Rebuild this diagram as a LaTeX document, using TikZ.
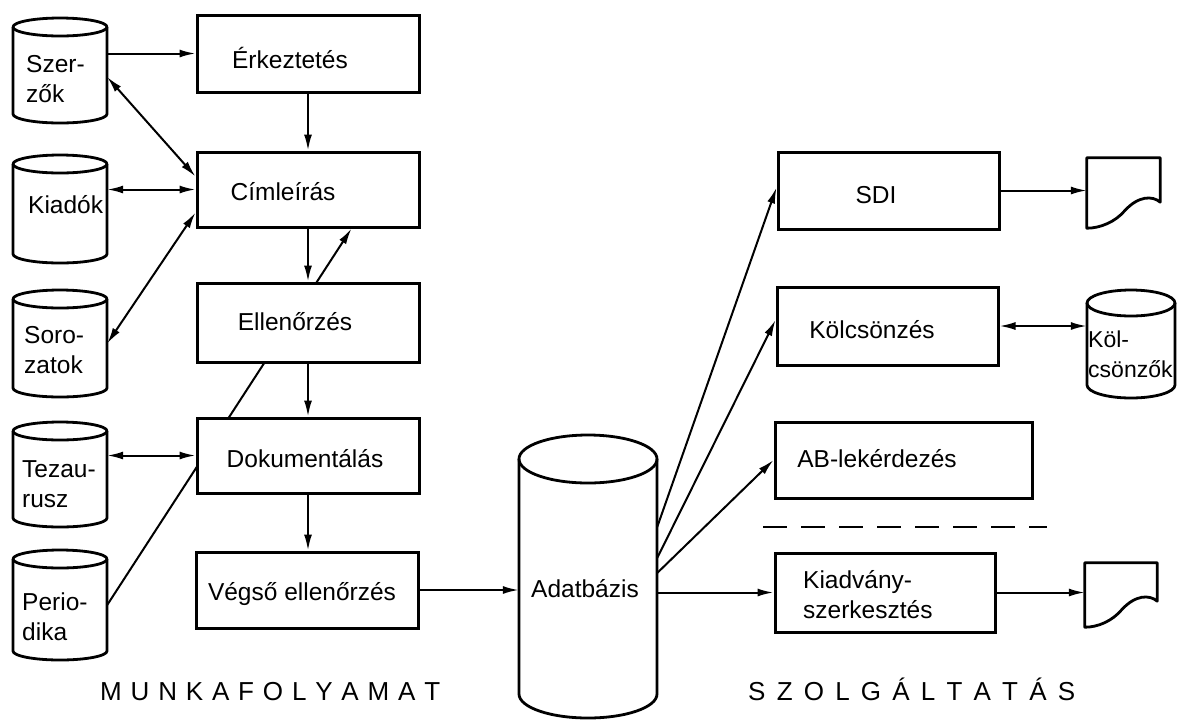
\documentclass[tikz,border=0pt]{standalone}
\usepackage{fontspec}
\setmainfont{Liberation Sans}
\usetikzlibrary{arrows.meta,fit,calc,backgrounds}
\newcommand\mycyl[6]{%
  \node[hold, fit={(#2,-#3)(#4,-#5)}] (#1) {};
  \draw[shapeline] ({(#2+#4)/2},{-#3-#6}) ellipse [x radius={(#4-#2)/2}, y radius=#6];
  \draw[shapeline] (#2,{-#3-#6}) -- (#2,{-#5+#6}) arc[start angle=180,end angle=360,x radius={(#4-#2)/2},y radius=#6] -- (#4,{-#3-#6});}
\newcommand\mydoc[5]{%
  \node[hold, fit={(#2,-#3)(#4,-#5)}] (#1) {};
  \draw[shapeline] (#1.south west) -- (#1.north west) -- (#1.north east) -- ($(#1.south east)+(0,26)$)
    .. controls +(-8,7) and +(13,14) .. ($(#1.south east)+(-35,18)$)
    .. controls +(-10,-12) and +(13,0) .. (#1.south west) -- cycle;}
\begin{document}
\begin{tikzpicture}[x=1pt,y=1pt,
  every node/.style={font=\fontsize{24.5}{30}\selectfont},
  procbox/.style={draw, line width=3pt, fill=white, inner sep=0pt},
  hold/.style={inner sep=0pt, draw=none},
  shapeline/.style={line width=2.8pt, line join=round},
  conn/.style={line width=2pt},
  arr/.style={conn, -{Latex[length=16pt,width=8pt]}},
  darr/.style={conn, {Latex[length=16pt,width=8pt]}-{Latex[length=16pt,width=8pt]}},
  dashline/.style={line width=2.2pt, dash pattern=on 24pt off 14pt},
  lbl/.style={inner sep=0pt, anchor=base},
  lbll/.style={inner sep=0pt, anchor=base west, align=left},
  title/.style={inner sep=0pt, anchor=base west, font=\fontsize{26}{29}\selectfont}]
\useasboundingbox (0,0) rectangle (1178,-721);

% left cylinders
\mycyl{szer}{13}{18}{107}{123}{9}
\mycyl{kiad}{13}{155}{107}{263}{9}
\mycyl{soro}{13}{290}{107}{397}{9}
\mycyl{tez}{13}{422}{107}{527}{9}
\mycyl{per}{13}{550}{107}{660}{9}

% work-flow boxes
\node[procbox, fit={(197,-15)(419,-92)}] (erk) {};
\node[procbox, fit={(197,-152)(419,-227)}] (cim) {};
\node[procbox, fit={(197,-283)(419,-362)}] (ell) {};
\node[procbox, fit={(197,-418)(419,-493)}] (dok) {};
\node[procbox, fit={(196,-552)(418,-628)}] (veg) {};

% database
\mycyl{adat}{519}{435}{657}{718}{24}

% services
\node[procbox, fit={(778,-152)(999,-229)}] (sdi) {};
\node[procbox, fit={(777,-287)(998,-365)}] (kolcs) {};
\node[procbox, fit={(775,-422)(1032,-498)}] (ab) {};
\node[procbox, fit={(775,-553)(995,-632)}] (kiadv) {};
\mycyl{kolcsok}{1087}{290}{1175}{398}{13}
\mydoc{sdidoc}{1087}{158}{1160}{228}
\mydoc{kiadoc}{1085}{563}{1157}{627}

% labels
\node[lbll] at (26,-102) {Szer-\\zők};
\node[lbll] at (28,-213) {Kiadók};
\node[lbll] at (24,-373) {Soro-\\zatok};
\node[lbll] at (22,-507) {Tezau-\\rusz};
\node[lbll] at (22,-640) {Perio-\\dika};
\node[lbl] at (290,-68) {Érkeztetés};
\node[lbl] at (283,-200) {Címleírás};
\node[lbl] at (295,-330) {Ellenőrzés};
\node[lbl] at (305,-467) {Dokumentálás};
\node[lbl] at (302,-600) {Végső ellenőrzés};
\node[lbl] at (585,-597) {Adatbázis};
\node[lbl] at (876,-203) {SDI};
\node[lbl] at (872,-338) {Kölcsönzés};
\node[lbl] at (877,-467) {AB-lekérdezés};
\node[lbll] at (803,-618) {Kiadvány-\\szerkesztés};
\node[lbll, font=\fontsize{23}{30}\selectfont] at (1088,-377) {Köl-\\csönzők};
\node[title] at (100,-700) {\hbox to 340pt{M\hfill U\hfill N\hfill K\hfill A\hfill F\hfill O\hfill L\hfill Y\hfill A\hfill M\hfill A\hfill T}};
\node[title] at (748,-700) {\hbox to 327pt{S\hfill Z\hfill O\hfill L\hfill G\hfill Á\hfill L\hfill T\hfill A\hfill T\hfill Á\hfill S}};

% connectors
\begin{pgfonlayer}{background}
\draw[arr] (per.east) -- ($(cim.south)+(43.5,0)$);
\end{pgfonlayer}
\draw[arr] (szer.east |- erk.west) -- (erk.west);
\draw[darr] ($(szer.east)+(0,-6.5)$) -- ($(cim.west)+(0,13)$);
\draw[darr] (kiad.east |- cim.west) -- (cim.west);
\draw[darr] (soro.east) -- ($(cim.west)+(0,-23)$);
\draw[darr] (tez.east |- dok.west) -- (dok.west);
\draw[arr] (erk.south) -- (cim.north);
\draw[arr] (cim.south) -- (ell.north);
\draw[arr] (ell.south) -- (dok.north);
\draw[arr] (dok.south) -- (dok.south |- veg.north);
\draw[arr] (veg.east) -- (veg.east -| adat.west);
\draw[arr] (adat.east |- kiadv.west) -- (kiadv.west);
\draw[arr] ($(adat.east)+(0,49.5)$) -- ($(sdi.west)+(0,3)$);
\draw[arr] ($(adat.east)+(0,18.5)$) -- ($(kolcs.west)+(0,6)$);
\draw[arr] ($(adat.east)+(0,3.5)$) -- (ab.west);
\draw[arr] (sdi.east) -- (sdi.east -| sdidoc.west);
\draw[darr] (kolcs.east) -- (kolcs.east -| kolcsok.west);
\draw[arr] (kiadv.east) -- (kiadv.east -| kiadoc.west);
\coordinate (d1) at (763,-527);
\coordinate (d2) at (1047,-527);
\draw[dashline] (d1) -- (d2);
\end{tikzpicture}
\end{document}
